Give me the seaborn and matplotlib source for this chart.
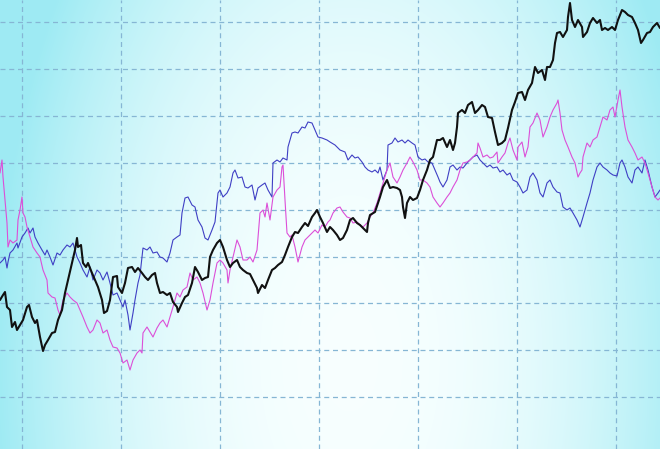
import numpy as np
import seaborn as sns
import matplotlib.pyplot as plt

sns.set_theme(style="white")

# three price paths (x = session, y = level, screen-down)
black_x = [0, 3, 5, 7, 10, 12, 15, 17, 20, 23, 27, 29, 32, 35, 37, 40, 43, 45, 48, 52, 55, 58, 62, 65, 68, 72, 75, 77, 78, 81,
           83, 86, 88, 92, 95, 98, 102, 104, 107, 110, 113, 117, 118, 122, 125, 128, 132, 135, 138, 142, 145, 148, 152, 155, 157, 160, 163, 167, 170, 173,
           177, 178, 182, 185, 188, 192, 195, 198, 202, 205, 208, 210, 213, 217, 220, 223, 227, 230, 233, 237, 240, 243, 247, 250, 253, 257, 258, 262, 265, 268,
           272, 275, 278, 282, 285, 288, 292, 295, 298, 302, 305, 308, 312, 315, 317, 320, 323, 327, 330, 333, 337, 340, 343, 347, 350, 353, 357, 360, 363, 367,
           368, 370, 375, 380, 383, 387, 390, 393, 397, 400, 402, 403, 405, 407, 410, 413, 417, 420, 423, 427, 430, 433, 437, 440, 443, 447, 450, 453, 455, 457,
           458, 462, 465, 468, 472, 475, 478, 482, 485, 488, 492, 495, 498, 502, 505, 508, 512, 515, 518, 522, 525, 528, 532, 535, 538, 542, 545, 547, 550, 553,
           555, 557, 560, 563, 567, 568, 570, 572, 575, 578, 582, 583, 587, 590, 593, 597, 600, 602, 605, 608, 612, 615, 618, 622, 625, 628, 632, 635, 638, 641,
           643, 647, 650, 653, 657, 660]
black_y = [300, 295, 292, 307, 310, 327, 322, 330, 325, 320, 307, 305, 317, 323, 320, 337, 351, 345, 340, 333, 332, 320, 310, 293, 280, 263, 250, 238, 247, 245,
           263, 267, 263, 273, 280, 287, 300, 313, 311, 300, 277, 276, 287, 293, 283, 268, 267, 272, 268, 273, 277, 280, 275, 273, 283, 293, 292, 295, 293, 302,
           307, 312, 303, 297, 295, 283, 267, 272, 280, 278, 277, 257, 250, 243, 240, 247, 260, 267, 263, 260, 267, 270, 273, 274, 280, 288, 293, 285, 288, 280,
           270, 268, 265, 262, 255, 247, 237, 232, 233, 227, 223, 226, 217, 213, 210, 217, 223, 232, 227, 230, 235, 240, 238, 230, 220, 218, 223, 225, 228, 232,
           223, 215, 212, 197, 187, 180, 188, 187, 188, 190, 197, 207, 218, 203, 197, 200, 198, 190, 180, 170, 160, 157, 140, 140, 138, 147, 140, 150, 143, 127,
           113, 110, 113, 105, 102, 113, 110, 105, 107, 117, 118, 132, 145, 143, 140, 128, 110, 102, 93, 92, 100, 90, 83, 67, 73, 70, 80, 67, 67, 60,
           43, 33, 32, 37, 30, 17, 3, 20, 27, 20, 27, 37, 32, 23, 18, 23, 20, 30, 28, 30, 27, 30, 20, 10, 12, 15, 17, 23, 30, 43,
           40, 33, 32, 27, 23, 28]

blue_x = [0, 3, 5, 7, 8, 10, 13, 17, 18, 22, 25, 28, 30, 33, 35, 38, 42, 45, 47, 50, 53, 57, 60, 63, 67, 70, 73, 77, 80, 83,
          87, 90, 93, 97, 100, 103, 107, 110, 113, 117, 120, 123, 125, 128, 130, 133, 135, 138, 140, 143, 147, 150, 153, 157, 160, 163, 167, 170, 173, 177,
          180, 182, 185, 188, 192, 195, 198, 202, 205, 208, 212, 215, 218, 220, 223, 227, 230, 233, 235, 238, 242, 245, 248, 252, 255, 258, 262, 265, 268, 272,
          273, 277, 280, 283, 287, 288, 292, 295, 298, 302, 305, 308, 312, 315, 318, 322, 327, 330, 335, 340, 345, 348, 352, 355, 358, 362, 365, 368, 372, 375,
          378, 380, 383, 387, 388, 392, 395, 398, 402, 405, 408, 412, 415, 418, 422, 425, 428, 432, 435, 438, 440, 443, 447, 450, 453, 457, 460, 463, 467, 470,
          473, 477, 480, 483, 487, 490, 493, 497, 500, 503, 507, 510, 513, 517, 520, 523, 527, 530, 533, 537, 540, 543, 547, 550, 553, 557, 560, 563, 567, 570,
          573, 577, 580, 583, 587, 590, 593, 597, 600, 603, 607, 610, 613, 617, 620, 622, 625, 628, 632, 635, 638, 642, 645, 648, 652, 655, 658, 660]
blue_y = [263, 260, 257, 268, 262, 253, 250, 243, 248, 237, 233, 228, 233, 228, 237, 243, 250, 255, 250, 257, 265, 253, 255, 250, 245, 247, 243, 257, 263, 270,
          277, 267, 280, 270, 273, 280, 272, 283, 295, 293, 300, 307, 300, 315, 330, 313, 300, 283, 275, 248, 250, 247, 253, 252, 257, 258, 262, 253, 240, 237,
          235, 213, 198, 197, 205, 207, 220, 227, 238, 240, 230, 222, 193, 190, 197, 193, 187, 173, 170, 178, 177, 187, 188, 185, 200, 188, 185, 183, 190, 197,
          163, 160, 162, 158, 160, 147, 133, 132, 133, 127, 128, 122, 123, 130, 137, 138, 140, 142, 145, 150, 152, 160, 155, 158, 157, 162, 167, 170, 172, 170,
          173, 167, 180, 170, 145, 143, 138, 142, 140, 143, 140, 143, 145, 157, 160, 159, 162, 163, 170, 177, 182, 187, 180, 167, 165, 170, 167, 168, 163, 160,
          157, 155, 160, 163, 167, 165, 168, 167, 172, 170, 175, 173, 180, 182, 187, 193, 190, 177, 173, 180, 193, 197, 183, 180, 187, 192, 193, 207, 210, 208,
          213, 220, 227, 217, 203, 193, 180, 167, 163, 167, 170, 173, 175, 176, 163, 160, 167, 177, 183, 170, 167, 173, 160, 170, 187, 197, 193, 190]

pink_x = [0, 2, 3, 5, 7, 8, 10, 13, 17, 18, 20, 22, 23, 25, 27, 30, 33, 37, 40, 43, 47, 48, 52, 55, 58, 60, 63, 67, 70, 73,
          77, 80, 83, 87, 90, 93, 97, 100, 103, 107, 110, 113, 117, 120, 123, 127, 130, 133, 137, 140, 142, 143, 147, 150, 153, 157, 160, 163, 167, 170,
          173, 177, 180, 183, 187, 190, 193, 197, 200, 203, 207, 210, 213, 217, 220, 223, 227, 228, 230, 233, 237, 240, 243, 247, 250, 253, 257, 260, 263, 265,
          267, 270, 273, 277, 280, 282, 283, 285, 287, 290, 292, 295, 297, 298, 302, 305, 308, 312, 315, 318, 322, 325, 328, 330, 333, 337, 340, 343, 347, 350,
          353, 357, 360, 363, 367, 370, 373, 377, 380, 383, 387, 390, 393, 397, 400, 403, 407, 410, 413, 417, 420, 423, 427, 430, 433, 437, 440, 443, 447, 450,
          453, 457, 460, 463, 467, 470, 473, 477, 478, 480, 483, 487, 490, 493, 497, 498, 502, 505, 508, 510, 513, 517, 518, 522, 525, 528, 530, 533, 537, 540,
          543, 547, 550, 553, 557, 558, 560, 562, 565, 568, 572, 575, 578, 580, 582, 583, 587, 590, 593, 597, 600, 603, 607, 610, 613, 615, 618, 620, 622, 625,
          628, 632, 635, 638, 642, 645, 648, 652, 655, 658, 660]
pink_y = [173, 160, 177, 200, 223, 247, 240, 243, 240, 220, 210, 197, 213, 217, 227, 237, 247, 253, 257, 270, 280, 293, 297, 298, 310, 315, 300, 293, 297, 300,
          303, 310, 317, 327, 333, 330, 320, 323, 333, 330, 340, 347, 348, 353, 363, 360, 370, 360, 353, 350, 353, 333, 327, 332, 337, 328, 323, 320, 327, 317,
          307, 293, 297, 290, 287, 273, 280, 277, 283, 293, 310, 300, 283, 263, 260, 263, 270, 283, 270, 257, 240, 247, 260, 260, 257, 262, 250, 213, 210, 217,
          203, 220, 197, 190, 187, 167, 165, 200, 233, 237, 235, 247, 257, 262, 247, 240, 237, 233, 230, 233, 225, 227, 222, 220, 213, 208, 207, 212, 217, 218,
          223, 222, 225, 227, 223, 217, 213, 203, 193, 183, 170, 163, 177, 183, 177, 170, 163, 157, 162, 170, 180, 180, 183, 187, 197, 203, 207, 203, 197, 193,
          187, 180, 170, 163, 162, 160, 157, 153, 143, 148, 157, 155, 158, 157, 152, 163, 157, 153, 143, 138, 150, 160, 147, 142, 157, 147, 127, 123, 113, 120,
          137, 127, 117, 110, 103, 100, 113, 130, 140, 147, 157, 163, 177, 173, 170, 157, 143, 147, 140, 137, 127, 117, 120, 110, 107, 117, 100, 90, 107, 127,
          140, 147, 153, 160, 157, 163, 173, 187, 197, 200, 198]

fig = plt.figure(figsize=(6.6, 4.49), dpi=100)
ax = fig.add_axes([0, 0, 1, 1])

# cyan -> white -> cyan background wash
gx, gy = np.meshgrid(np.linspace(0, 660, 330), np.linspace(0, 449, 225))
t = ((gx - 350) / 355) ** 2 + ((gy - 360) / 650) ** 2
t = np.clip(t, 0, 1) ** 1.1
white = np.array([0.97, 1.0, 1.0])
cyan = np.array([0.62, 0.92, 0.955])
bg = white[None, None, :] * (1 - t[..., None]) + cyan[None, None, :] * t[..., None]
ax.imshow(bg, extent=[0, 660, 449, 0], aspect="auto", zorder=0, interpolation="bilinear")

sns.lineplot(x=blue_x, y=blue_y, color="#3f3fc4", lw=0.8, sort=False, estimator=None, ax=ax, zorder=3)
sns.lineplot(x=pink_x, y=pink_y, color="#dc4fd8", lw=0.8, sort=False, estimator=None, ax=ax, zorder=3)
sns.lineplot(x=black_x, y=black_y, color="#111111", lw=1.5, sort=False, estimator=None, ax=ax, zorder=4)

ax.set_xlim(0, 660)
ax.set_ylim(449, 0)
ax.set_xticks(np.arange(22, 660, 99))
ax.set_yticks(22 + 46.9 * np.arange(9))
ax.grid(True, color="#86b6d4", lw=0.9, ls=(0, (4, 3)), zorder=1)
ax.tick_params(length=0, labelbottom=False, labelleft=False)
ax.set_xlabel("")
ax.set_ylabel("")
for s in ax.spines.values():
    s.set_visible(False)

fig.savefig("out.png", dpi=100)
